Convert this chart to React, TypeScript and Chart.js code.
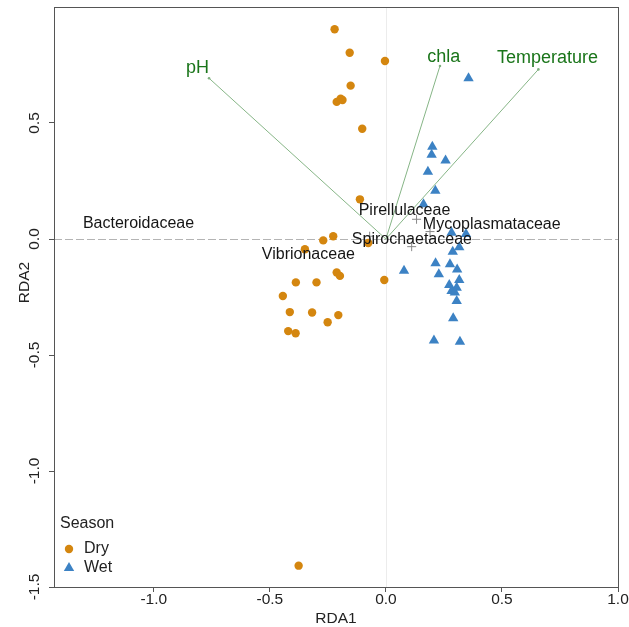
import React, { useEffect, useRef } from 'react';
import { Chart, registerables } from 'chart.js';

Chart.register(...registerables);

// ---- Data ----
const dryX = [-0.221, -0.156, -0.004, -0.152, -0.212, -0.195, -0.187, -0.102, -0.112, -0.227, -0.27, -0.076, -0.349, -0.212, -0.198, -0.388, -0.299, -0.007, -0.444, -0.414, -0.318, -0.205, -0.251, -0.421, -0.389, -0.376];
const dryY = [0.904, 0.803, 0.767, 0.661, 0.591, 0.605, 0.599, 0.475, 0.171, 0.012, -0.006, -0.017, -0.044, -0.144, -0.159, -0.187, -0.187, -0.177, -0.246, -0.315, -0.317, -0.328, -0.359, -0.397, -0.406, -1.408];

const wetX = [0.356, 0.2, 0.197, 0.257, 0.181, 0.213, 0.162, 0.283, 0.345, 0.316, 0.288, 0.078, 0.214, 0.276, 0.307, 0.228, 0.316, 0.273, 0.305, 0.283, 0.297, 0.305, 0.29, 0.207, 0.319];
const wetY = [0.693, 0.398, 0.363, 0.338, 0.29, 0.208, 0.15, 0.027, 0.022, -0.036, -0.055, -0.137, -0.105, -0.109, -0.131, -0.152, -0.177, -0.198, -0.21, -0.224, -0.231, -0.267, -0.342, -0.438, -0.443];

const envNames = ['pH', 'chla', 'Temperature'];
const envX = [-0.762, 0.233, 0.657];
const envY = [0.693, 0.746, 0.731];
const envLabelX = [-0.812, 0.249, 0.696];
const envLabelY = [0.736, 0.786, 0.779];

const speciesNames = ['Bacteroidaceae', 'Vibrionaceae', 'Pirellulaceae', 'Mycoplasmataceae', 'Spirochaetaceae'];
const speciesX = [-1.066, -0.334, 0.08, 0.456, 0.112];
const speciesY = [0.065, -0.069, 0.121, 0.06, -0.003];

const crossX = [0.132, 0.19, 0.111, -0.07];
const crossY = [0.085, 0.032, -0.033, 0.012];

const xTicks = [-1.0, -0.5, 0, 0.5, 1.0];
const xTickLabels = ['-1.0', '-0.5', '0.0', '0.5', '1.0'];
const yTicks = [-1.5, -1.0, -0.5, 0, 0.5];
const yTickLabels = ['-1.5', '-1.0', '-0.5', '0.0', '0.5'];

const seasonNames = ['Dry', 'Wet'];

const DRY = '#d4860f';
const WET = '#3c82c4';
const FONT = '"Liberation Sans", Arial, sans-serif';

const overlay = {
  id: 'overlay',
  beforeDatasetsDraw(chart: any) {
    const { ctx, chartArea: a, scales } = chart;
    const x = scales.x, y = scales.y;
    ctx.save();
    const x0 = Math.round(x.getPixelForValue(0)) + 0.5;
    ctx.strokeStyle = '#ececec';
    ctx.lineWidth = 1;
    ctx.beginPath();
    ctx.moveTo(x0, a.top);
    ctx.lineTo(x0, a.bottom);
    ctx.stroke();
    const y0 = Math.round(y.getPixelForValue(0)) + 0.5;
    ctx.strokeStyle = '#b4b4b4';
    ctx.setLineDash([8, 3]);
    ctx.beginPath();
    ctx.moveTo(a.left, y0);
    ctx.lineTo(a.right, y0);
    ctx.stroke();
    ctx.restore();
  },
  afterDatasetsDraw(chart: any) {
    const { ctx, scales } = chart;
    const x = scales.x, y = scales.y;
    ctx.save();
    // arrow tips
    ctx.fillStyle = '#7fb07f';
    envX.forEach((vx, i) => {
      const tx = x.getPixelForValue(vx), ty = y.getPixelForValue(envY[i]);
      ctx.beginPath();
      ctx.arc(tx, ty, 1.3, 0, Math.PI * 2);
      ctx.fill();
    });
    // env labels
    ctx.fillStyle = '#1a751a';
    ctx.font = `18px ${FONT}`;
    ctx.textAlign = 'center';
    ctx.textBaseline = 'middle';
    envNames.forEach((n, i) => {
      ctx.fillText(n, x.getPixelForValue(envLabelX[i]), y.getPixelForValue(envLabelY[i]));
    });
    // species labels
    ctx.fillStyle = '#151515';
    ctx.font = `16px ${FONT}`;
    speciesNames.forEach((n, i) => {
      ctx.fillText(n, x.getPixelForValue(speciesX[i]), y.getPixelForValue(speciesY[i]));
    });
    ctx.restore();
  },
  afterDraw(chart: any) {
    const { ctx, chartArea: a, scales } = chart;
    const x = scales.x, y = scales.y;
    ctx.save();
    // frame
    ctx.strokeStyle = '#555';
    ctx.lineWidth = 1;
    ctx.strokeRect(Math.round(a.left) + 0.5, Math.round(a.top) + 0.5, Math.round(a.right - a.left), Math.round(a.bottom - a.top));
    // tick labels
    ctx.fillStyle = '#222';
    ctx.font = `15.5px ${FONT}`;
    ctx.textAlign = 'center';
    ctx.textBaseline = 'middle';
    xTicks.forEach((v, i) => {
      ctx.fillText(xTickLabels[i], x.getPixelForValue(v), 600);
    });
    yTicks.forEach((v, i) => {
      ctx.save();
      ctx.translate(35, y.getPixelForValue(v));
      ctx.rotate(-Math.PI / 2);
      ctx.fillText(yTickLabels[i], 0, 0);
      ctx.restore();
    });
    // axis titles
    ctx.fillText('RDA1', (a.left + a.right) / 2, 619);
    ctx.save();
    ctx.translate(25, 282.5);
    ctx.rotate(-Math.PI / 2);
    ctx.fillText('RDA2', 0, 0);
    ctx.restore();
    // legend
    ctx.textAlign = 'left';
    ctx.font = `16px ${FONT}`;
    ctx.fillStyle = '#222';
    ctx.fillText('Season', 60, 524);
    ctx.fillText(seasonNames[0], 84, 549);
    ctx.fillText(seasonNames[1], 84, 568);
    ctx.fillStyle = DRY;
    ctx.beginPath();
    ctx.arc(69, 549, 4.2, 0, Math.PI * 2);
    ctx.fill();
    ctx.fillStyle = WET;
    const r = 6;
    ctx.beginPath();
    ctx.moveTo(69, 568 - r);
    ctx.lineTo(69 + r * 0.866, 568 + r * 0.5);
    ctx.lineTo(69 - r * 0.866, 568 + r * 0.5);
    ctx.closePath();
    ctx.fill();
    ctx.restore();
  },
};

export default function App() {
  const ref = useRef<HTMLCanvasElement | null>(null);
  useEffect(() => {
    if (!ref.current) return;
    const pts = (xs: number[], ys: number[]) => xs.map((v, i) => ({ x: v, y: ys[i] }));
    const arrowSets = envX.map((vx, i) => ({
      label: envNames[i],
      data: [{ x: 0, y: 0 }, { x: vx, y: envY[i] }],
      showLine: true,
      borderColor: '#86b586',
      borderWidth: 1,
      pointRadius: 0,
      fill: false,
    }));
    const chart = new Chart(ref.current, {
      type: 'scatter',
      data: {
        datasets: [
          {
            label: 'Dry',
            data: pts(dryX, dryY),
            pointStyle: 'circle',
            pointRadius: 4.2,
            backgroundColor: DRY,
            borderColor: DRY,
            borderWidth: 0,
          },
          {
            label: 'Wet',
            data: pts(wetX, wetY),
            pointStyle: 'triangle',
            pointRadius: 6,
            backgroundColor: WET,
            borderColor: WET,
            borderWidth: 0,
          },
          {
            label: 'species',
            data: pts(crossX, crossY),
            pointStyle: 'cross',
            pointRadius: 4.5,
            borderColor: '#8a8a8a',
            borderWidth: 1,
          },
          ...arrowSets,
        ] as any,
      },
      options: {
        animation: false,
        responsive: true,
        maintainAspectRatio: false,
        layout: { padding: { left: 0, right: 11, top: 7, bottom: 0 } },
        plugins: { legend: { display: false }, tooltip: { enabled: false } },
        scales: {
          x: {
            type: 'linear',
            min: -1.43,
            max: 1.0,
            afterFit: (s: any) => { s.height = 40; },
            afterBuildTicks: (s: any) => { s.ticks = xTicks.map((v) => ({ value: v })); },
            ticks: { display: false },
            grid: { display: true, drawOnChartArea: false, drawTicks: true, tickLength: 5, color: '#555', tickColor: '#555' },
            border: { display: false },
          },
          y: {
            type: 'linear',
            min: -1.5,
            max: 1.0,
            afterFit: (s: any) => { s.width = 54; },
            afterBuildTicks: (s: any) => { s.ticks = yTicks.map((v) => ({ value: v })); },
            ticks: { display: false },
            grid: { display: true, drawOnChartArea: false, drawTicks: true, tickLength: 5, color: '#555', tickColor: '#555' },
            border: { display: false },
          },
        },
      } as any,
      plugins: [overlay],
    });
    return () => chart.destroy();
  }, []);
  return (
    <div style={{ position: 'fixed', left: 0, top: 0, width: 629, height: 627, background: '#fff' }}>
      <canvas ref={ref} style={{ display: 'block' }} />
    </div>
  );
}
